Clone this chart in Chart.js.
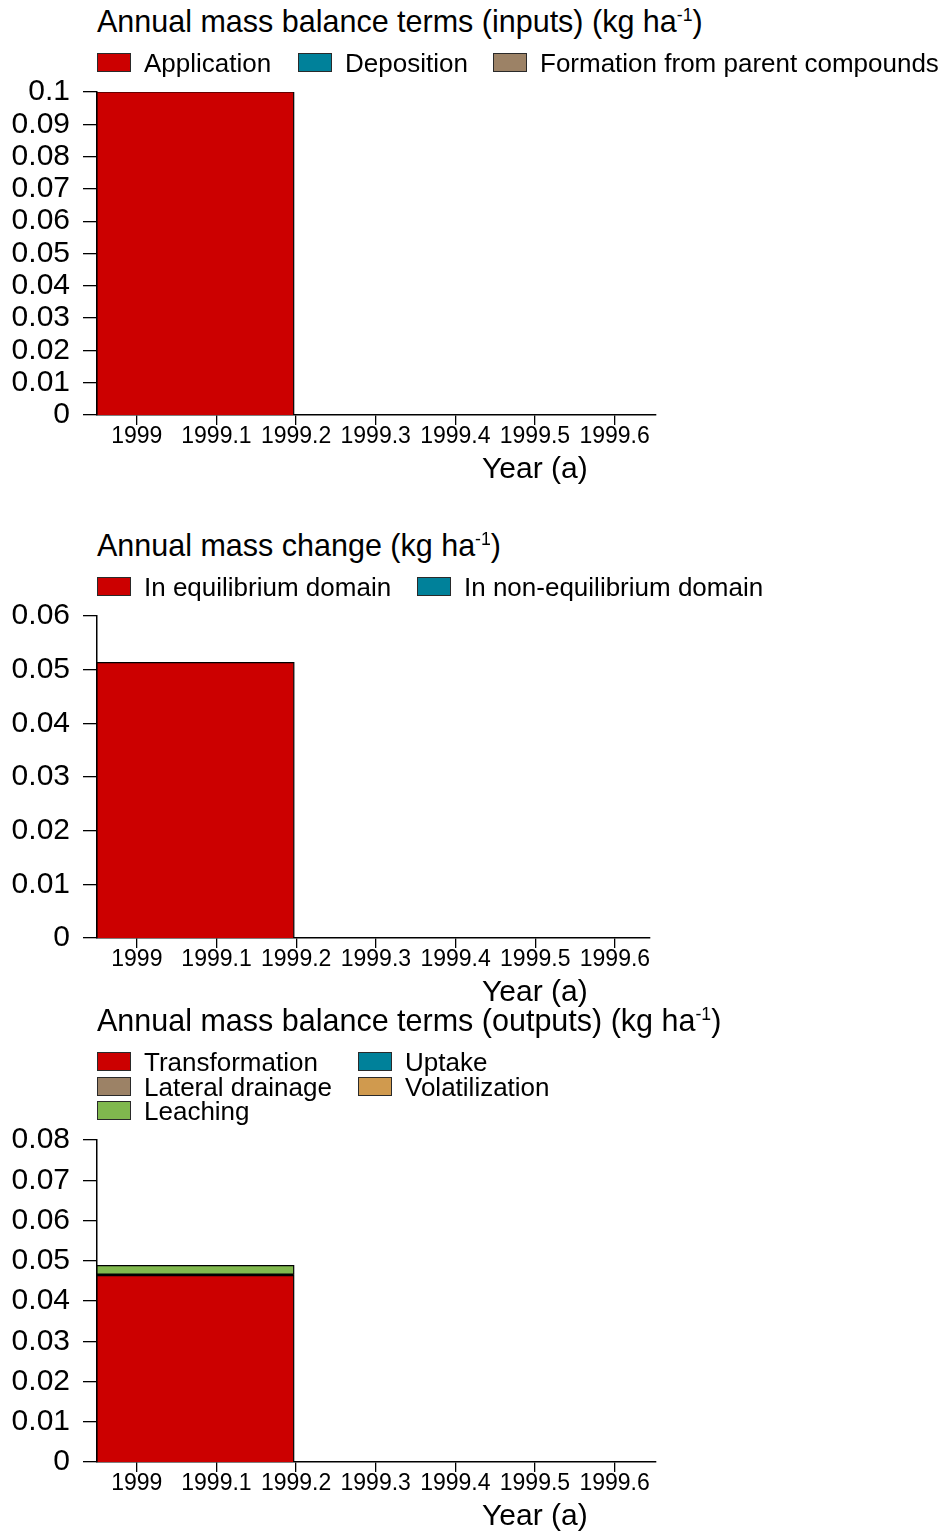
<!DOCTYPE html>
<html>
<head>
<meta charset="utf-8">
<title>Annual mass balance</title>
<script src="https://cdn.jsdelivr.net/npm/chart.js@4/dist/chart.umd.min.js"></script>
<style>
  html, body { margin: 0; padding: 0; background: #fff; }
  body { position: relative; width: 944px; height: 1532px; overflow: hidden;
         font-family: "Liberation Sans", Arial, sans-serif; color: #000; }
  .txt { position: absolute; white-space: nowrap; line-height: 1; }
  .txt sup { font-size: 0.58em; position: relative; top: -0.62em; vertical-align: 0; }
  .key { position: absolute; width: 34px; height: 19px; box-sizing: border-box; border: 1.5px solid #2a2a2a; }
  canvas { position: absolute; left: 0; }
</style>
</head>
<body>
<script>
// ---- data -------------------------------------------------------------
const inputSeries  = ['Application', 'Deposition', 'Formation from parent compounds'];
const inputValues  = [0.1, 0, 0];
const inputColors  = ['#CC0000', '#00819A', '#9C8266'];

const changeSeries = ['In equilibrium domain', 'In non-equilibrium domain'];
const changeValues = [0.0513, 0];
const changeColors = ['#CC0000', '#00819A'];

const outputSeries = ['Transformation', 'Uptake', 'Lateral drainage', 'Volatilization', 'Leaching'];
const outputValues = [0.0465, 0, 0, 0, 0.0023];
const outputColors = ['#CC0000', '#00819A', '#9C8266', '#D09A4E', '#80B84E'];

// balance period for the year 1999 (in decimal years)
const periodStart = 1998.95;
const periodEnd   = 1999.197;

const xTicks      = [1999, 1999.1, 1999.2, 1999.3, 1999.4, 1999.5, 1999.6];
const xTickLabels = ['1999', '1999.1', '1999.2', '1999.3', '1999.4', '1999.5', '1999.6'];

const inputTicks   = [0, 0.01, 0.02, 0.03, 0.04, 0.05, 0.06, 0.07, 0.08, 0.09, 0.1];
const inputLabels  = ['0', '0.01', '0.02', '0.03', '0.04', '0.05', '0.06', '0.07', '0.08', '0.09', '0.1'];
const changeTicks  = [0, 0.01, 0.02, 0.03, 0.04, 0.05, 0.06];
const changeLabels = ['0', '0.01', '0.02', '0.03', '0.04', '0.05', '0.06'];
const outputTicks  = [0, 0.01, 0.02, 0.03, 0.04, 0.05, 0.06, 0.07, 0.08];
const outputLabels = ['0', '0.01', '0.02', '0.03', '0.04', '0.05', '0.06', '0.07', '0.08'];

// ---- helpers ------------------------------------------------------------
const FONT = '"Liberation Sans", Arial, sans-serif';

function addText(html, x, cy, size, anchor) {
  const d = document.createElement('div');
  d.className = 'txt';
  d.innerHTML = html;
  d.style.fontSize = size + 'px';
  d.style.top = (cy - size / 2) + 'px';
  d.style.left = x + 'px';
  document.body.appendChild(d);
  if (anchor === 'center') d.style.left = (x - d.offsetWidth / 2) + 'px';
  return d;
}

function addLegend(names, colors, slots) {
  names.forEach((name, i) => {
    const [x, cy] = slots[i];
    const k = document.createElement('div');
    k.className = 'key';
    k.style.left = x + 'px';
    k.style.top = (cy - 9.5) + 'px';
    k.style.background = colors[i];
    document.body.appendChild(k);
    addText(name, x + 47, cy + 1, 26);
  });
}

// each series is a stacked block spanning the balance period
function stackedBlocks(names, values, colors) {
  const sets = [];
  let base = 0;
  values.forEach((v, i) => {
    const top = base + v;
    const sharesEdge = values.slice(i + 1).some(w => w > 0);
    sets.push({
      label: names[i],
      data: v > 0 ? [
        { x: periodStart, y: base },
        { x: periodStart, y: top },
        { x: periodEnd,   y: top },
        { x: periodEnd,   y: base }
      ] : [],
      fill: { value: base },
      backgroundColor: colors[i],
      borderColor: '#000',
      borderWidth: 1.2,
      segment: { borderWidth: ctx => (sharesEdge && ctx.p0DataIndex === 1) ? 2.6 : 1.2 },
      pointRadius: 0,
      tension: 0
    });
    base = top;
  });
  return sets;
}

function makePanel(p) {
  const padTop = 30, xAxisH = 46, width = 700;
  const c = document.createElement('canvas');
  const h = (p.zero - p.top) + padTop + xAxisH;
  c.width = width; c.height = h;
  c.style.top = (p.top - padTop) + 'px';
  c.style.width = width + 'px'; c.style.height = h + 'px';
  document.body.appendChild(c);

  new Chart(c, {
    type: 'line',
    data: { datasets: stackedBlocks(p.names, p.values, p.colors) },
    options: {
      responsive: false,
      animation: false,
      devicePixelRatio: 1,
      layout: { padding: { top: padTop, right: width - p.right, left: 0, bottom: 0 } },
      plugins: { legend: { display: false }, tooltip: { enabled: false }, title: { display: false } },
      scales: {
        x: {
          type: 'linear',
          min: periodStart,
          max: p.xMax,
          afterBuildTicks: s => { s.ticks = xTicks.map(v => ({ value: v })); },
          afterFit: s => { s.height = xAxisH; },
          grid: { drawOnChartArea: false, drawTicks: true, tickLength: 10, color: '#000', lineWidth: 1.3 },
          border: { display: true, color: '#000', width: 1.5 },
          ticks: {
            autoSkip: false, maxRotation: 0, minRotation: 0, padding: -2, color: '#000',
            font: { family: FONT, size: 23 },
            callback: (v, i) => xTickLabels[i]
          }
        },
        y: {
          type: 'linear',
          min: 0,
          max: p.yTicks[p.yTicks.length - 1],
          afterBuildTicks: s => { s.ticks = p.yTicks.map(v => ({ value: v })); },
          afterFit: s => { s.width = 97; },
          grid: { drawOnChartArea: false, drawTicks: true, tickLength: 14, color: '#000', lineWidth: 1.3 },
          border: { display: true, color: '#000', width: 1.5 },
          ticks: {
            autoSkip: false, padding: 13, color: '#000',
            font: { family: FONT, size: 30 },
            callback: (v, i) => p.yLabels[i]
          }
        }
      }
    }
  });

  addText(p.title, 97, p.titleY, 30.5);
  addLegend(p.names, p.colors, p.slots);
  addText('Year (a)', 535, p.zero + 53, 30, 'center');
}

// ---- panels ---------------------------------------------------------------
makePanel({
  title: 'Annual mass balance terms (inputs) (kg ha<sup>-1</sup>)', titleY: 21,
  names: inputSeries, values: inputValues, colors: inputColors,
  slots: [[97, 62], [298, 62], [493, 62]],
  top: 91, zero: 415, right: 656, xMax: 1999.652,
  yTicks: inputTicks, yLabels: inputLabels
});

makePanel({
  title: 'Annual mass change (kg ha<sup>-1</sup>)', titleY: 545,
  names: changeSeries, values: changeValues, colors: changeColors,
  slots: [[97, 586], [417, 586]],
  top: 615, zero: 938, right: 650, xMax: 1999.644,
  yTicks: changeTicks, yLabels: changeLabels
});

makePanel({
  title: 'Annual mass balance terms (outputs) (kg ha<sup>-1</sup>)', titleY: 1020,
  names: outputSeries, values: outputValues, colors: outputColors,
  slots: [[97, 1061], [358, 1061], [97, 1086], [358, 1086], [97, 1110]],
  top: 1139, zero: 1462, right: 656, xMax: 1999.652,
  yTicks: outputTicks, yLabels: outputLabels
});
</script>
</body>
</html>
